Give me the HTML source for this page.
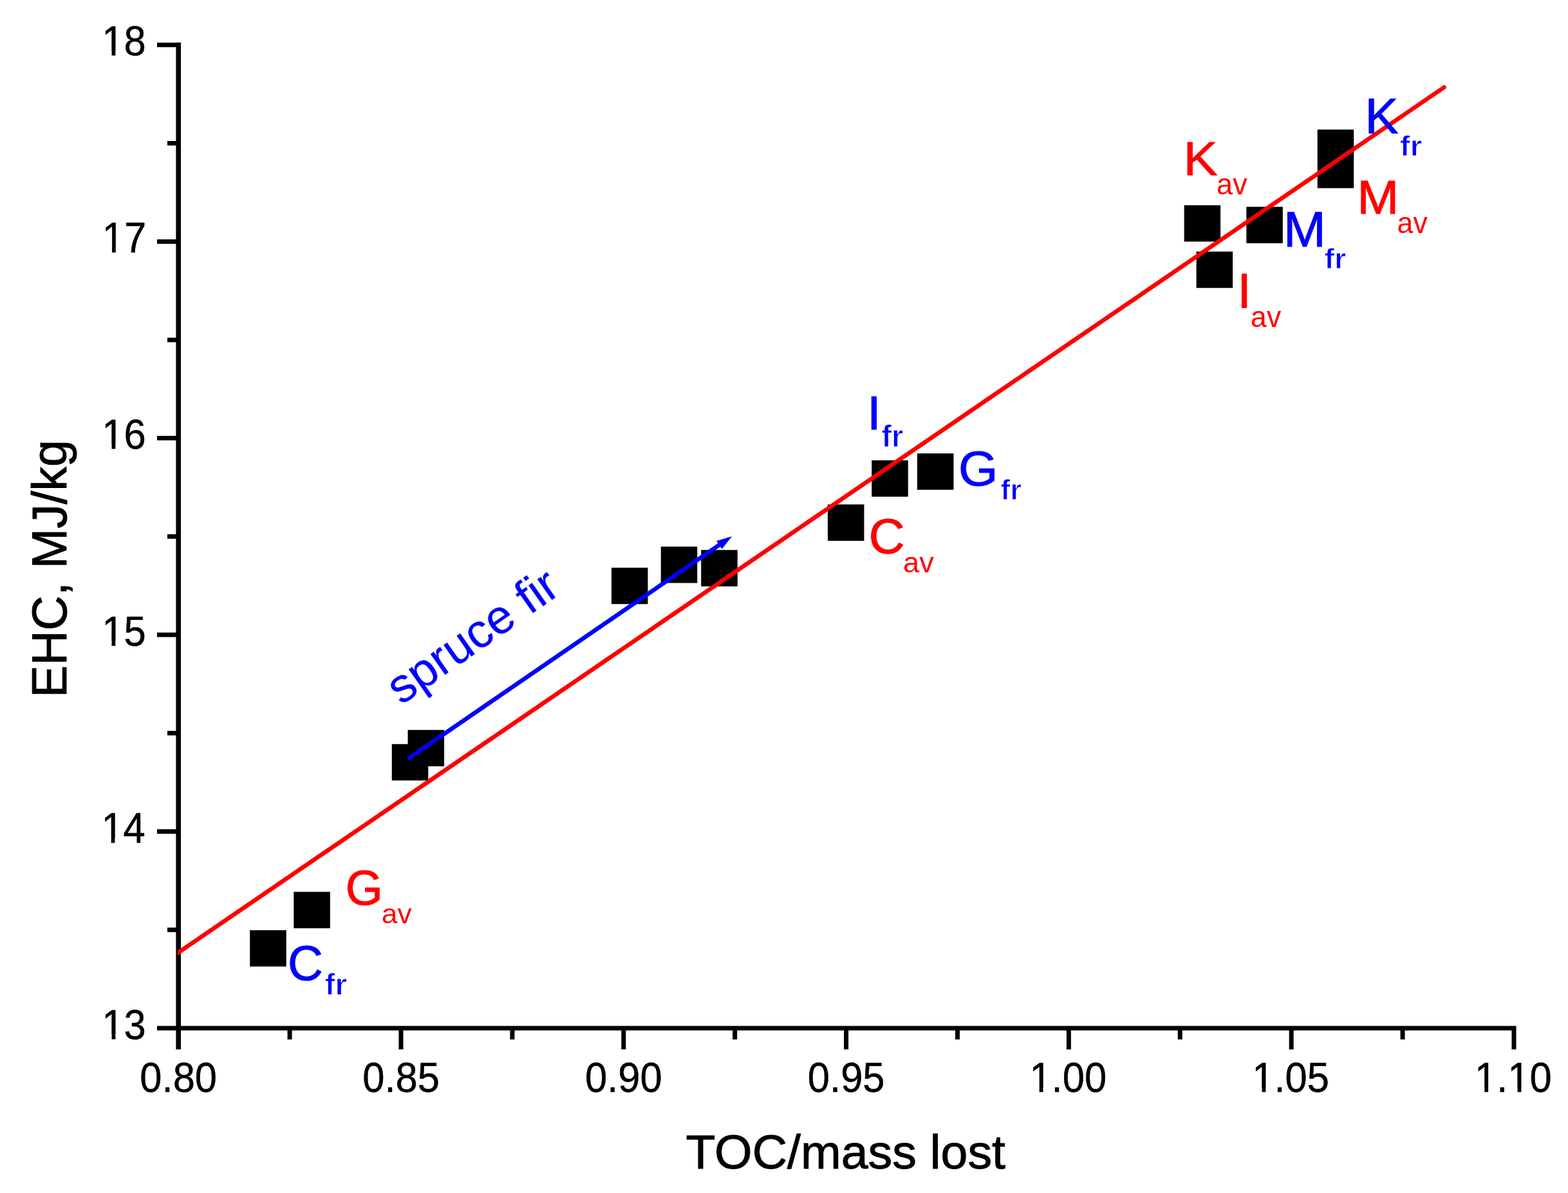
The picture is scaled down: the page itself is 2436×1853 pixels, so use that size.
<!DOCTYPE html>
<html><head><meta charset="utf-8"><title>EHC vs TOC/mass lost</title>
<style>
html,body{margin:0;padding:0;background:#fff;}
body{width:2436px;height:1853px;overflow:hidden;}
svg{display:block;}
text{font-family:'Liberation Sans', Arial, Helvetica, sans-serif;}
</style></head>
<body>
<svg width="2436" height="1853" viewBox="0 0 2436 1853">
<rect width="2436" height="1853" fill="#fff"/>
<path fill="#000" d="M273.40 66.00H281.00V1630.00H273.40ZM244.00 1593.50H2355.50V1600.50H244.00ZM244.00 1593.50H277.20V1600.50H244.00ZM260.00 1440.77H277.20V1447.77H260.00ZM244.00 1288.04H277.20V1295.04H244.00ZM260.00 1135.31H277.20V1142.31H260.00ZM244.00 982.58H277.20V989.58H244.00ZM260.00 829.85H277.20V836.85H260.00ZM244.00 677.12H277.20V684.12H244.00ZM260.00 524.39H277.20V531.39H260.00ZM244.00 371.66H277.20V378.66H244.00ZM260.00 218.93H277.20V225.93H260.00ZM244.00 66.20H277.20V73.20H244.00ZM273.70 1597.00H280.70V1630.00H273.70ZM446.60 1597.00H453.60V1614.50H446.60ZM619.50 1597.00H626.50V1630.00H619.50ZM792.40 1597.00H799.40V1614.50H792.40ZM965.30 1597.00H972.30V1630.00H965.30ZM1138.20 1597.00H1145.20V1614.50H1138.20ZM1311.10 1597.00H1318.10V1630.00H1311.10ZM1484.00 1597.00H1491.00V1614.50H1484.00ZM1656.90 1597.00H1663.90V1630.00H1656.90ZM1829.80 1597.00H1836.80V1614.50H1829.80ZM2002.70 1597.00H2009.70V1630.00H2002.70ZM2175.60 1597.00H2182.60V1614.50H2175.60ZM2348.50 1597.00H2355.50V1630.00H2348.50Z"/>
<g transform="translate(158.30,1613.62) scale(1.0000,1.0450)"><text font-size="61.50" fill="#000" stroke="#000" stroke-width="0.50" stroke-linejoin="round">13</text><rect x="2.50" y="-6.34" width="12.76" height="8.84" fill="#fff"/><rect x="21.10" y="-6.34" width="12.28" height="8.84" fill="#fff"/></g>
<g transform="translate(157.40,1308.79) scale(1.0000,1.0754)"><text font-size="61.50" fill="#000" stroke="#000" stroke-width="0.50" stroke-linejoin="round">14</text><rect x="2.50" y="-6.34" width="12.76" height="8.84" fill="#fff"/><rect x="21.10" y="-6.34" width="12.28" height="8.84" fill="#fff"/></g>
<g transform="translate(158.18,1002.69) scale(1.0000,1.0603)"><text font-size="61.50" fill="#000" stroke="#000" stroke-width="0.50" stroke-linejoin="round">15</text><rect x="2.50" y="-6.34" width="12.76" height="8.84" fill="#fff"/><rect x="21.10" y="-6.34" width="12.28" height="8.84" fill="#fff"/></g>
<g transform="translate(158.30,697.24) scale(1.0000,1.0450)"><text font-size="61.50" fill="#000" stroke="#000" stroke-width="0.50" stroke-linejoin="round">16</text><rect x="2.50" y="-6.34" width="12.76" height="8.84" fill="#fff"/><rect x="21.10" y="-6.34" width="12.28" height="8.84" fill="#fff"/></g>
<g transform="translate(158.69,392.41) scale(1.0000,1.0754)"><text font-size="61.50" fill="#000" stroke="#000" stroke-width="0.50" stroke-linejoin="round">17</text><rect x="2.50" y="-6.34" width="12.76" height="8.84" fill="#fff"/><rect x="21.10" y="-6.34" width="12.28" height="8.84" fill="#fff"/></g>
<g transform="translate(158.27,86.32) scale(1.0000,1.0450)"><text font-size="61.50" fill="#000" stroke="#000" stroke-width="0.50" stroke-linejoin="round">18</text><rect x="2.50" y="-6.34" width="12.76" height="8.84" fill="#fff"/><rect x="21.10" y="-6.34" width="12.28" height="8.84" fill="#fff"/></g>
<g transform="translate(217.35,1696.33) scale(1.0000,1.0404)"><text font-size="61.50" fill="#000" stroke="#000" stroke-width="0.50" stroke-linejoin="round">0.80</text></g>
<g transform="translate(563.24,1696.33) scale(1.0000,1.0404)"><text font-size="61.50" fill="#000" stroke="#000" stroke-width="0.50" stroke-linejoin="round">0.85</text></g>
<g transform="translate(908.95,1696.33) scale(1.0000,1.0404)"><text font-size="61.50" fill="#000" stroke="#000" stroke-width="0.50" stroke-linejoin="round">0.90</text></g>
<g transform="translate(1254.84,1696.33) scale(1.0000,1.0404)"><text font-size="61.50" fill="#000" stroke="#000" stroke-width="0.50" stroke-linejoin="round">0.95</text></g>
<g transform="translate(1599.41,1696.33) scale(1.0000,1.0404)"><text font-size="61.50" fill="#000" stroke="#000" stroke-width="0.50" stroke-linejoin="round">1.00</text><rect x="2.50" y="-6.34" width="12.76" height="8.84" fill="#fff"/><rect x="21.10" y="-6.34" width="12.28" height="8.84" fill="#fff"/></g>
<g transform="translate(1945.30,1696.33) scale(1.0000,1.0404)"><text font-size="61.50" fill="#000" stroke="#000" stroke-width="0.50" stroke-linejoin="round">1.05</text><rect x="2.50" y="-6.34" width="12.76" height="8.84" fill="#fff"/><rect x="21.10" y="-6.34" width="12.28" height="8.84" fill="#fff"/></g>
<g transform="translate(2291.01,1696.33) scale(1.0000,1.0404)"><text font-size="61.50" fill="#000" stroke="#000" stroke-width="0.50" stroke-linejoin="round">1.10</text><rect x="2.50" y="-6.34" width="12.76" height="8.84" fill="#fff"/><rect x="21.10" y="-6.34" width="12.28" height="8.84" fill="#fff"/><rect x="53.79" y="-6.34" width="12.76" height="8.84" fill="#fff"/><rect x="72.39" y="-6.34" width="12.28" height="8.84" fill="#fff"/></g>
<g transform="translate(1065.41,1815.27) scale(1.0000,0.9924)"><text font-size="75.33" fill="#000" stroke="#000" stroke-width="1.00" stroke-linejoin="round">TOC/mass lost</text></g>
<text transform="translate(103.10,1083.56) rotate(-90) scale(1.0000,1.0017)" font-size="75.08" fill="#000" stroke="#000" stroke-width="1.0" stroke-linejoin="round">EHC, MJ/kg</text>
<path fill="#000" d="M388.25 1444.75H444.75V1501.25H388.25ZM456.35 1385.15H512.85V1441.65H456.35ZM608.75 1155.65H665.25V1212.15H608.75ZM633.55 1133.85H690.05V1190.35H633.55ZM949.95 881.85H1006.45V938.35H949.95ZM1026.75 849.05H1083.25V905.55H1026.75ZM1089.25 854.25H1145.75V910.75H1089.25ZM1285.95 783.45H1342.45V839.95H1285.95ZM1354.25 715.05H1410.75V771.55H1354.25ZM1424.95 704.25H1481.45V760.75H1424.95ZM1839.65 318.85H1896.15V375.35H1839.65ZM1858.65 390.85H1915.15V447.35H1858.65ZM1936.35 321.35H1992.85V377.85H1936.35ZM2046.75 201.35H2103.25V257.85H2046.75ZM2046.75 235.85H2103.25V292.35H2046.75Z"/>
<clipPath id="pc"><rect x="276.0" y="0" width="2200" height="1853"/></clipPath>
<line clip-path="url(#pc)" x1="272.0" y1="1483.02" x2="2243.5" y2="135.6" stroke="#ff0000" stroke-width="6.6" stroke-linecap="round"/>
<line x1="635.9" y1="1177.1" x2="1120.61" y2="844.22" stroke="#0000ff" stroke-width="6.6" stroke-linecap="round"/>
<polygon points="1137.10,832.90 1121.62,852.75 1113.01,840.22" fill="#0000ff"/>
<text transform="translate(623.0,1096.0) rotate(-35.0)" font-size="74.4" fill="#0000ff" stroke="#0000ff" stroke-width="0.2" stroke-linejoin="round">spruce fir</text>
<g transform="translate(447.04,1521.65) scale(1.0000,1.0098)"><text font-size="75.95" fill="#0000ff" stroke="#0000ff" stroke-width="1.00" stroke-linejoin="round">C</text></g>
<g transform="translate(504.69,1545.10) scale(1.0000,0.9840)"><text font-size="47.69" font-weight="bold" fill="#0000ff" stroke="#fff" stroke-width="1.00" stroke-linejoin="round">fr</text></g>
<g transform="translate(536.85,1405.15) scale(1.0000,1.0243)"><text font-size="74.60" fill="#ff0000" stroke="#ff0000" stroke-width="1.00" stroke-linejoin="round">G</text></g>
<g transform="translate(592.71,1434.18) scale(1.0000,0.9775)"><text font-size="44.44" fill="#ff0000">av</text></g>
<g transform="translate(1349.87,858.76) scale(1.0000,0.9858)"><text font-size="77.37" fill="#ff0000" stroke="#ff0000" stroke-width="1.00" stroke-linejoin="round">C</text></g>
<g transform="translate(1403.07,888.77) scale(1.0000,0.9744)"><text font-size="45.34" fill="#ff0000">av</text></g>
<g transform="translate(1489.03,753.77) scale(1.0000,0.9525)"><text font-size="78.89" fill="#0000ff" stroke="#0000ff" stroke-width="1.00" stroke-linejoin="round">G</text></g>
<g transform="translate(1554.53,775.50) scale(1.0000,1.0044)"><text font-size="44.93" font-weight="bold" fill="#0000ff" stroke="#fff" stroke-width="1.00" stroke-linejoin="round">fr</text></g>
<g transform="translate(1347.01,667.40) scale(1.0000,0.9466)"><text font-size="78.00" fill="#0000ff" stroke="#0000ff" stroke-width="1.00" stroke-linejoin="round">I</text></g>
<g transform="translate(1369.40,694.10) scale(1.0000,1.0051)"><text font-size="46.96" font-weight="bold" fill="#0000ff" stroke="#fff" stroke-width="1.00" stroke-linejoin="round">fr</text></g>
<g transform="translate(1838.46,272.00) scale(1.0000,0.9387)"><text font-size="79.74" fill="#ff0000" stroke="#ff0000" stroke-width="1.00" stroke-linejoin="round">K</text></g>
<g transform="translate(1890.09,302.05) scale(1.0000,1.0132)"><text font-size="45.04" fill="#ff0000">av</text></g>
<g transform="translate(2120.58,206.50) scale(1.0000,0.9974)"><text font-size="78.26" fill="#0000ff" stroke="#0000ff" stroke-width="1.00" stroke-linejoin="round">K</text></g>
<g transform="translate(2174.99,242.30) scale(1.0000,0.9580)"><text font-size="47.11" font-weight="bold" fill="#0000ff" stroke="#fff" stroke-width="1.00" stroke-linejoin="round">fr</text></g>
<g transform="translate(2108.62,332.00) scale(1.0000,0.9630)"><text font-size="77.73" fill="#ff0000" stroke="#ff0000" stroke-width="1.00" stroke-linejoin="round">M</text></g>
<g transform="translate(2170.61,362.05) scale(1.0000,1.0245)"><text font-size="44.54" fill="#ff0000">av</text></g>
<g transform="translate(1994.03,383.25) scale(1.0000,0.9954)"><text font-size="78.86" fill="#0000ff" stroke="#0000ff" stroke-width="1.00" stroke-linejoin="round">M</text></g>
<g transform="translate(2057.45,416.75) scale(1.0000,0.9522)"><text font-size="46.74" font-weight="bold" fill="#0000ff" stroke="#fff" stroke-width="1.00" stroke-linejoin="round">fr</text></g>
<g transform="translate(1922.29,478.25) scale(1.0000,0.9830)"><text font-size="78.00" fill="#ff0000" stroke="#ff0000" stroke-width="1.00" stroke-linejoin="round">I</text></g>
<g transform="translate(1943.11,508.30) scale(1.0000,1.0245)"><text font-size="44.54" fill="#ff0000">av</text></g>
</svg>
</body></html>
